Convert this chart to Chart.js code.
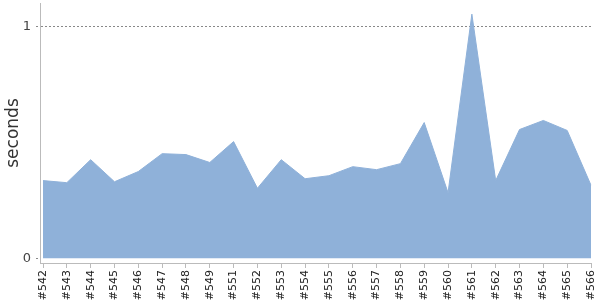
<!DOCTYPE html>
<html><head><meta charset="utf-8">
<script src="https://cdn.jsdelivr.net/npm/chart.js@4/dist/chart.umd.min.js"></script>
<style>html,body{margin:0;padding:0;background:#fff}#wrap{width:600px;height:300px}</style>
</head><body><div id="wrap"><canvas id="c"></canvas></div>
<script>
const categories = ["#542","#543","#544","#545","#546","#547","#548","#549","#551","#552","#553","#554","#555","#556","#557","#558","#559","#560","#561","#562","#563","#564","#565","#566"];
const seconds = [0.335,0.326,0.425,0.330,0.374,0.451,0.447,0.413,0.503,0.302,0.425,0.343,0.356,0.395,0.382,0.408,0.585,0.283,1.052,0.335,0.555,0.594,0.551,0.315];
const yTicks = [0, 1];

new Chart(document.getElementById('c'), {
  type: 'line',
  data: {
    labels: categories,
    datasets: [{
      data: seconds,
      fill: 'origin',
      backgroundColor: 'rgb(143,177,217)',
      borderColor: 'rgb(143,177,217)',
      borderWidth: 1,
      pointRadius: 0,
      tension: 0
    }]
  },
  options: {
    responsive: true,
    maintainAspectRatio: false,
    animation: false,
    layout: { padding: { top: 3, right: 9, left: 0, bottom: 0 } },
    plugins: { legend: { display: false }, tooltip: { enabled: false } },
    scales: {
      x: {
        offset: false,
        grid: { drawOnChartArea: false, drawTicks: true, tickLength: 5, color: '#bbb' },
        border: { color: '#bbb' },
        ticks: { autoSkip: false, maxRotation: 90, minRotation: 90, color: '#222', padding: 2,
                 font: { family: 'DejaVu Sans', size: 11 } },
        afterFit: s => { s.height = 37; s.paddingLeft = 0; s.paddingRight = 0; },
        afterUpdate: s => {
          // small inset of first category from the y axis, as in the reference
          const n = categories.length - 1;
          const w = s.right - s.left;
          const step = (w - 3) / n;
          s._startValue = -3 / step;
          s._valueRange = w / step;
        }
      },
      y: {
        min: -0.02, max: 1.1,
        afterBuildTicks: s => { s.ticks = yTicks.map(v => ({ value: v })); },
        grid: {
          color: c => (c.tick && c.tick.value === 1) ? '#888' : 'rgba(0,0,0,0)',
          tickBorderDash: [2, 2],
          tickColor: '#888',
          tickLength: 4,
          drawTicks: true
        },
        border: { color: '#bbb', dash: [2, 2] },
        ticks: { color: '#444', padding: 5, font: { family: 'DejaVu Sans', size: 13 } },
        title: { display: true, text: 'seconds', color: '#333', padding: { top: 3, bottom: 0 },
                 font: { family: 'DejaVu Sans', size: 17 } },
        afterFit: s => { s.width = 40; s.paddingTop = 0; s.paddingBottom = 0; }
      }
    }
  }
});
</script></body></html>
